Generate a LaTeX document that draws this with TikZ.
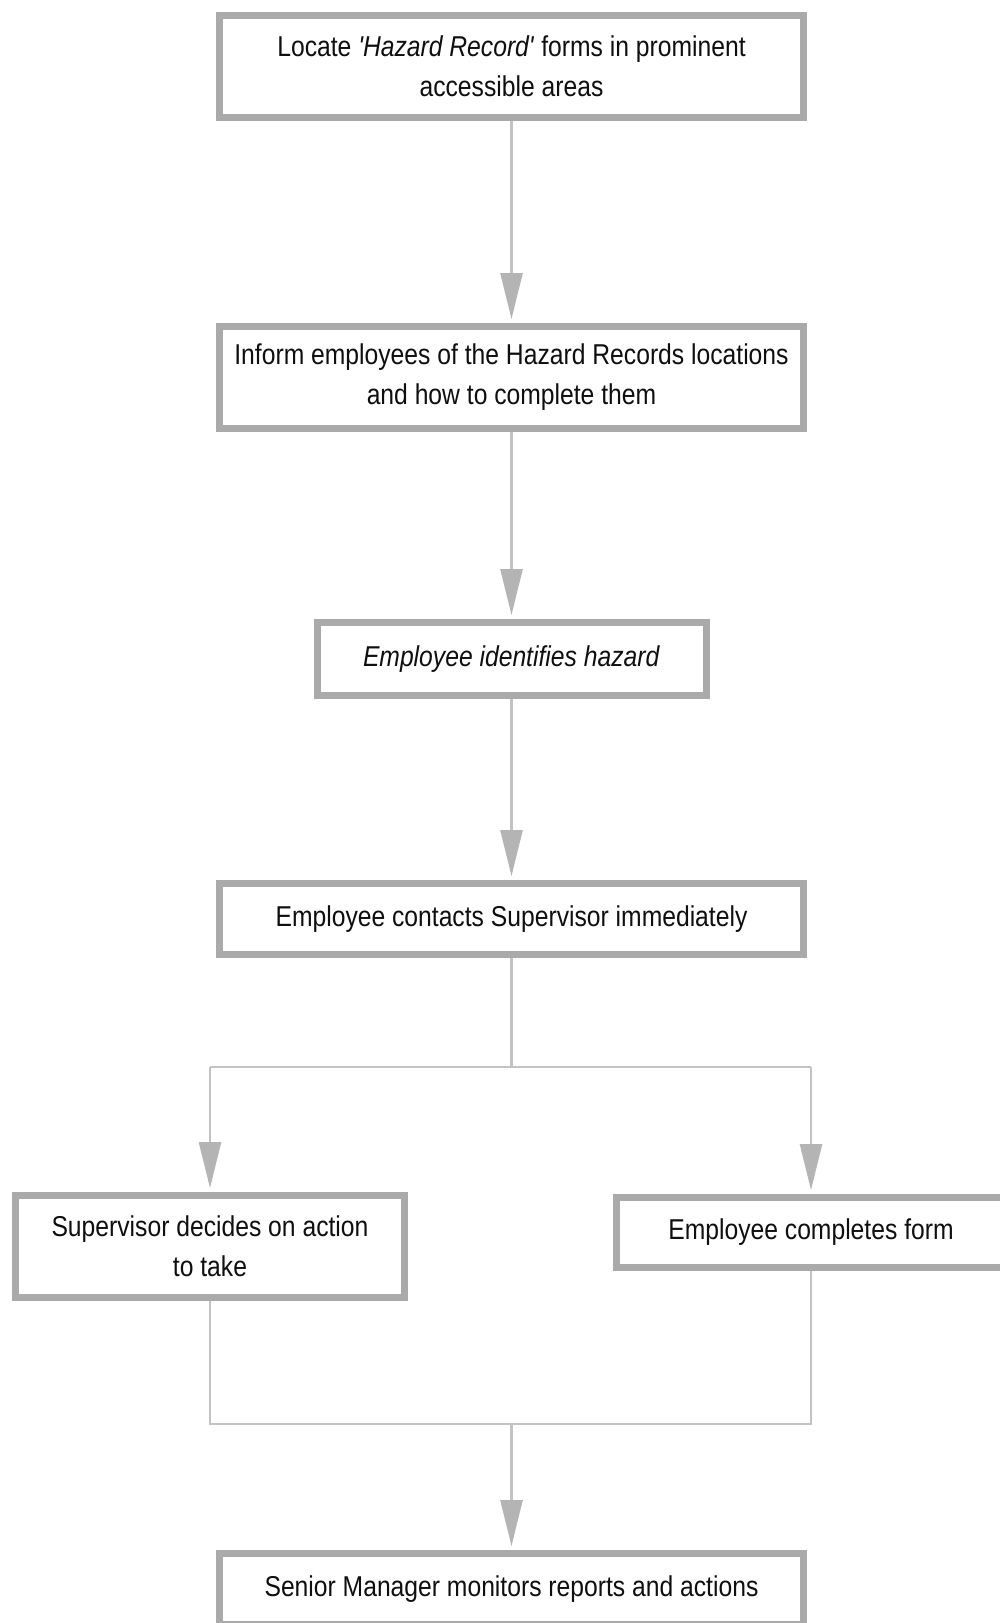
\documentclass[tikz,border=0pt]{standalone}
\usepackage{fontspec}
\newfontfamily\boxfont[FakeStretch=0.86]{Liberation Sans}
\usetikzlibrary{arrows.meta}
\definecolor{boxgray}{RGB}{170,170,170}
\definecolor{linegray}{RGB}{195,195,195}
\definecolor{tipgray}{RGB}{180,180,180}
\definecolor{txt}{RGB}{15,15,15}
\tikzset{
  stepbox/.style={draw=boxgray, line width=7pt, fill=white, rectangle, inner sep=0pt,
    align=center, text=txt, font=\boxfont\fontsize{28.7}{40}\selectfont},
  conn/.style={draw=linegray, line width=2.6pt},
  arr/.style={conn, -{Triangle[width=22pt,length=46pt,color=tipgray]}, shorten >=4pt}
}
\begin{document}
\begin{tikzpicture}[x=1pt,y=-1pt]
\useasboundingbox[fill=white] (0,0) rectangle (999,1623);
\node[stepbox, minimum width=584pt, minimum height=102pt] (b1) at (511.5,66.5)
  {Locate \textit{'Hazard Record'} forms in prominent\\accessible areas};
\node[stepbox, minimum width=584pt, minimum height=102pt] (b2) at (511.5,377.5)
  {Inform employees of the Hazard Records locations\\and how to complete them};
\node[stepbox, minimum width=389pt, minimum height=73pt] (b3) at (511.5,659)
  {\textit{Employee identifies hazard}};
\node[stepbox, minimum width=584pt, minimum height=71pt] (b4) at (511.5,919)
  {Employee contacts Supervisor immediately};
\node[stepbox, minimum width=389pt, minimum height=102pt] (b5) at (210,1246.5)
  {Supervisor decides on action\\to take};
\node[stepbox, minimum width=389pt, minimum height=70pt] (b6) at (811,1232.5)
  {Employee completes form};
\node[stepbox, minimum width=584pt, minimum height=71pt] (b7) at (511.5,1589)
  {Senior Manager monitors reports and actions};
\coordinate (s1) at (511.5,1067);
\coordinate (sl) at (210,1067);
\coordinate (sr) at (811,1067);
\coordinate (jl) at (210,1424);
\coordinate (jr) at (811,1424);
\coordinate (jm) at (511.5,1424);
\draw[arr] (b1.south) -- (b2.north);
\draw[arr] (b2.south) -- (b3.north);
\draw[arr] (b3.south) -- (b4.north);
\draw[conn] (b4.south) -- (s1);
\draw[conn] (sl) -- (sr);
\draw[arr] (sl) -- (b5.north);
\draw[arr] (sr) -- (b6.north);
\draw[conn] (b5.south) -- (jl) -- (jr) -- (b6.south);
\draw[arr] (jm) -- (b7.north);
\end{tikzpicture}
\end{document}
